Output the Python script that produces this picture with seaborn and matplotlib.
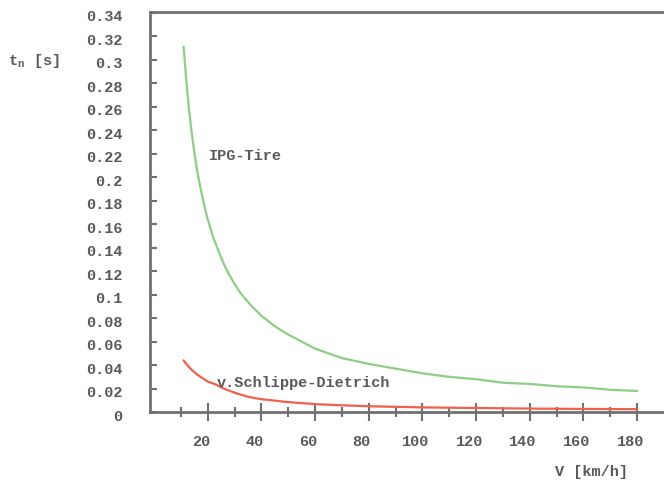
import numpy as np
import pandas as pd
import matplotlib
matplotlib.use('Agg')
import matplotlib.pyplot as plt
import matplotlib.transforms as mtransforms
import seaborn as sns

# values
v_ipg = [11, 12, 13, 14, 15, 16, 17, 18, 19, 20, 22, 24, 26, 28, 30, 32, 36, 40, 45,
         50, 55, 60, 70, 80, 90, 100, 110, 120, 130, 140, 150, 160, 170, 180]
tn_ipg = [0.311, 0.282, 0.258, 0.238, 0.221, 0.206, 0.194, 0.183, 0.173, 0.164,
          0.149, 0.137, 0.126, 0.117, 0.109, 0.102, 0.091, 0.082, 0.073,
          0.066, 0.060, 0.054, 0.046, 0.041, 0.037, 0.033, 0.030, 0.028, 0.025,
          0.024, 0.022, 0.021, 0.019, 0.018]
v_sd = [11, 12, 14, 16, 18, 20, 23, 26, 30, 35, 40, 50, 60, 70, 80, 90, 100,
        120, 140, 160, 180]
tn_sd = [0.044, 0.041, 0.036, 0.032, 0.029, 0.026, 0.0235, 0.020, 0.0165, 0.013,
         0.011, 0.0085, 0.0068, 0.0058, 0.005, 0.0045, 0.004, 0.0035, 0.003, 0.0027, 0.0025]

ytick_vals = [0, 0.02, 0.04, 0.06, 0.08, 0.1, 0.12, 0.14, 0.16, 0.18, 0.2,
              0.22, 0.24, 0.26, 0.28, 0.3, 0.32, 0.34]
ytick_labels = ['0', '0.02', '0.04', '0.06', '0.08', '0.1', '0.12', '0.14', '0.16',
                '0.18', '0.2', '0.22', '0.24', '0.26', '0.28', '0.3', '0.32', '0.34']
xtick_vals = [20, 40, 60, 80, 100, 120, 140, 160, 180]
xtick_minor = [10, 30, 50, 70, 90, 110, 130, 150, 170]

df = pd.concat([
    pd.DataFrame({'v': v_ipg, 'tn': tn_ipg, 'model': 'IPG-Tire'}),
    pd.DataFrame({'v': v_sd, 'tn': tn_sd, 'model': 'v.Schlippe-Dietrich'}),
])

sns.set_style('white')
plt.rcParams['font.family'] = ['Liberation Mono', 'DejaVu Sans Mono']
txtc = '#5a5a5a'
axc = '#707070'

fig = plt.figure(figsize=(6.64, 4.82), dpi=100)
ax = fig.add_axes([0.226, 0.145, 0.774, 0.83])
sns.lineplot(data=df, x='v', y='tn', hue='model',
             palette={'IPG-Tire': '#8ccf84', 'v.Schlippe-Dietrich': '#f0604f'},
             linewidth=1.6, legend=False, ax=ax)

ax.set_xlim(-1.5, 190)
ax.set_ylim(0, 0.3405)
ax.set_xlabel('')
ax.set_ylabel('')

ax.set_yticks(ytick_vals)
ax.set_yticklabels(ytick_labels)
ax.set_xticks(xtick_vals)
ax.set_xticks(xtick_minor, minor=True)

# seaborn's white style switches the ticks off, turn them back on
ax.tick_params(which='both', bottom=True, left=True)
ax.tick_params(axis='y', direction='in', length=5, width=1.5, color=axc,
               pad=20, labelsize=11, labelcolor=txtc)
ax.tick_params(axis='x', which='major', direction='inout', length=13, width=1.5,
               color=axc, pad=10, labelsize=11, labelcolor=txtc)
ax.tick_params(axis='x', which='minor', direction='inout', length=7, width=1.5, color=axc)
# labels sit a little off their ticks in the original
xshift = mtransforms.ScaledTranslation(-7 / 100, 0, fig.dpi_scale_trans)
yshift = mtransforms.ScaledTranslation(0, -3 / 100, fig.dpi_scale_trans)
for lab in ax.get_xticklabels():
    lab.set_fontweight('bold')
    lab.set_transform(lab.get_transform() + xshift)
for lab in ax.get_yticklabels():
    lab.set_fontweight('bold')
    lab.set_transform(lab.get_transform() + yshift)

for s in ['left', 'top', 'bottom']:
    ax.spines[s].set_color(axc)
    ax.spines[s].set_linewidth(2)
ax.spines['right'].set_visible(False)

ax.text(20.5, 0.218, 'IPG-Tire', fontsize=11, color=txtc, weight='bold', va='center')
ax.text(23.5, 0.025, 'v.Schlippe-Dietrich', fontsize=11, color=txtc, weight='bold', va='center')

fig.text(8 / 664, 1 - 61 / 482, r't$_\mathregular{n}$ [s]', fontsize=11, color=txtc,
         weight='bold', va='center', ha='left')
fig.text(628 / 664, 1 - 472 / 482, 'V [km/h]', fontsize=11, color=txtc,
         weight='bold', va='center', ha='right')

fig.savefig('out.png', dpi=100)
